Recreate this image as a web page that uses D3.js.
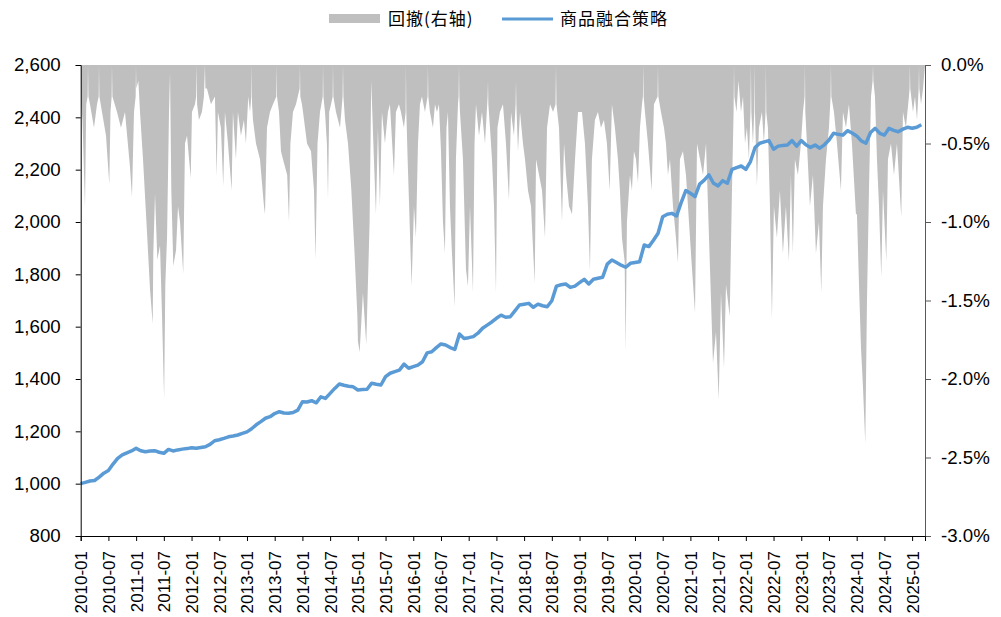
<!DOCTYPE html>
<html>
<head>
<meta charset="utf-8">
<script src="https://cdn.jsdelivr.net/npm/d3@7/dist/d3.min.js"></script>
<style>
  body { margin: 0; background: #fff; }
  svg text { font-family: Arial, "Liberation Sans", sans-serif; fill: #000; }
</style>
</head>
<body>
<script>
// 商品融合策略 净值, monthly (Jan 2010 .. Mar 2025)
const navStartYear = 2010;
const navValues = [
  1000, 1005, 1010, 1012, 1025, 1040, 1050, 1075, 1097, 1110, 1118, 1125, // 2010
  1135, 1126, 1122, 1125, 1126, 1120, 1116, 1131, 1125, 1129, 1132, 1134, // 2011
  1137, 1135, 1138, 1141, 1150, 1164, 1168, 1173, 1179, 1182, 1186, 1192, // 2012
  1198, 1210, 1225, 1237, 1250, 1256, 1268, 1275, 1270, 1269, 1272, 1281, // 2013
  1313, 1312, 1317, 1309, 1332, 1326, 1345, 1364, 1381, 1376, 1372, 1370, // 2014
  1358, 1360, 1361, 1384, 1380, 1377, 1409, 1422, 1428, 1434, 1457, 1441, // 2015
  1447, 1453, 1466, 1500, 1504, 1520, 1534, 1530, 1520, 1513, 1572, 1555, // 2016
  1558, 1562, 1575, 1594, 1606, 1618, 1632, 1644, 1636, 1638, 1660, 1683, // 2017
  1686, 1689, 1674, 1686, 1680, 1676, 1699, 1755, 1760, 1763, 1750, 1755, // 2018
  1768, 1781, 1763, 1781, 1785, 1789, 1839, 1855, 1845, 1835, 1827, 1842, // 2019
  1845, 1848, 1912, 1906, 1930, 1957, 2020, 2030, 2033, 2023, 2074, 2120, // 2020
  2110, 2097, 2145, 2160, 2180, 2148, 2138, 2158, 2148, 2201, 2208, 2214, // 2021
  2201, 2231, 2285, 2301, 2306, 2311, 2278, 2290, 2292, 2294, 2311, 2290, // 2022
  2311, 2295, 2285, 2294, 2282, 2295, 2313, 2339, 2335, 2332, 2349, 2340, // 2023
  2329, 2310, 2301, 2342, 2358, 2339, 2332, 2358, 2350, 2345, 2355, 2362, // 2024
  2358, 2362, 2372                                                         // 2025
];

// 回撤 (%), per year: [month offset, drawdown]
const dd2010 = [[0,0],[0.1,-0.25],[0.39,-0.35],[0.93,-0.91],[1.2,-0.25],[1.5,-0.2],[1.58,0],[1.68,-0.2],[2.01,-0.25],[2.88,-0.4],[3.53,-0.25],[3.9,-0.2],[3.96,0],[4.05,-0.2],[4.61,-0.3],[5.48,-0.45],[6.19,-0.76],[6.45,-0.3],[6.7,-0.2],[6.77,0],[6.87,-0.2],[7.86,-0.3],[8.72,-0.4],[9.59,-0.3],[10.67,-0.65],[11.1,-0.84],[11.54,-0.3],[11.9,-0.2],[11.97,0]];
const dd2011 = [[0.05,-0.15],[0.48,-0.1],[0.84,-0.3],[1.49,-0.6],[2.29,-1.03],[3.01,-1.43],[3.59,-1.65],[3.72,-1.2],[4.09,-0.82],[4.59,-1.24],[5.17,-1.15],[5.61,-1.6],[6.06,-2.13],[6.32,-1.4],[6.69,-1.1],[7.12,-0.3],[7.34,-0.05],[7.62,-0.8],[8.05,-1.28],[8.64,-1.18],[9.07,-0.9],[9.5,-1.0],[10.2,-1.33],[10.58,-0.5],[11.02,-0.45],[11.82,-0.72]];
const dd2012 = [[0.09,-0.3],[0.74,-0.25],[1.0,-0.2],[1.1,0],[1.2,-0.25],[1.6,-0.35],[2.25,-0.3],[2.68,-0.2],[2.9,0],[3.0,-0.15],[3.33,-0.15],[4.2,-0.25],[5.06,-0.2],[5.43,-0.71],[5.71,-0.3],[6.36,-0.4],[6.86,-0.77],[7.23,-0.3],[7.88,-0.5],[8.68,-0.8],[8.96,-0.3],[9.61,-0.6],[10.04,-0.3],[10.69,-0.45],[11.34,-0.35],[11.77,-0.5]];
const dd2013 = [[0.28,-0.2],[0.65,-0.3],[0.95,-0.2],[1.02,0],[1.1,-0.25],[1.3,-0.35],[1.95,-0.5],[2.81,-0.6],[3.68,-0.9],[3.9,-0.95],[4.33,-0.4],[4.98,-0.3],[5.63,-0.25],[6.35,-0.2],[6.43,0],[6.5,-0.2],[6.93,-0.3],[7.36,-0.55],[7.79,-0.6],[8.7,-0.7],[9.1,-1.0],[9.4,-0.5],[9.96,-0.3],[10.61,-0.25],[11.4,-0.15],[11.47,0],[11.55,-0.2],[11.9,-0.25]];
const dd2014 = [[0.13,-0.3],[1.0,-0.5],[1.86,-0.55],[2.51,-0.8],[2.84,-1.24],[3.27,-0.5],[3.81,-0.3],[4.4,-0.2],[4.46,0],[4.55,-0.2],[4.89,-0.3],[5.3,-0.5],[5.54,-0.85],[5.8,-0.3],[6.2,-0.25],[6.55,-0.2],[6.62,0],[6.7,-0.2],[7.27,-0.3],[8.14,-0.4],[8.7,-0.2],[8.79,0],[8.88,-0.2],[9.22,-0.35],[9.87,-0.5],[10.58,-0.79],[11.32,-1.22],[11.9,-1.6]];
const dd2015 = [[0.02,-1.76],[0.39,-1.83],[1.1,-1.45],[1.82,-1.78],[2.55,-1.0],[2.9,-0.1],[3.48,-0.6],[3.92,-0.95],[4.35,-0.4],[4.78,-0.9],[5.22,-0.3],[5.87,-0.5],[6.52,-0.3],[6.95,-0.25],[7.82,-0.7],[8.25,-0.3],[8.9,-0.25],[9.33,-0.3],[9.98,-0.4],[10.35,-0.3],[10.41,0],[10.5,-0.3],[10.78,-0.6],[11.21,-1.0],[11.64,-1.41]];
const dd2016 = [[0.15,-0.9],[0.58,-1.1],[1.02,-0.5],[1.45,-0.25],[1.88,-0.2],[2.53,-0.3],[3.1,-0.2],[3.18,0],[3.26,-0.2],[3.61,-0.3],[4.26,-0.4],[4.7,-0.25],[5.13,-0.3],[5.56,-0.25],[6.0,-0.55],[6.43,-1.0],[6.86,-1.2],[7.19,-0.4],[7.51,-0.3],[7.94,-0.9],[8.38,-1.2],[8.96,-1.54],[9.24,-0.6],[9.68,-0.25],[9.82,-0.2],[9.9,0],[9.98,-0.2],[10.11,-0.3],[10.76,-0.6],[11.41,-1.3],[11.84,-1.41]];
const dd2017 = [[0.28,-0.9],[0.93,-1.45],[1.26,-0.5],[1.58,-0.25],[2.23,-0.45],[2.88,-0.3],[3.53,-0.5],[4.1,-0.2],[4.18,-0.1],[4.26,-0.25],[4.61,-0.4],[5.04,-0.6],[5.48,-0.9],[5.91,-1.45],[6.23,-0.4],[6.77,-0.3],[7.42,-0.25],[8.07,-0.5],[8.72,-0.86],[9.16,-0.3],[9.8,-0.45],[10.16,-0.25],[10.24,-0.1],[10.32,-0.25],[10.67,-0.55],[11.11,-0.3],[11.75,-0.5]];
const dd2018 = [[0.19,-0.6],[0.84,-0.8],[1.49,-0.9],[2.29,-1.39],[2.58,-0.6],[3.23,-0.7],[3.88,-0.8],[4.52,-1.1],[4.96,-0.4],[5.61,-0.25],[6.26,-0.3],[6.8,-0.25],[6.9,0],[7.0,-0.25],[7.55,-0.4],[8.2,-1.0],[8.64,-0.5],[9.07,-0.7],[9.72,-0.9],[10.37,-0.95],[11.02,-0.6],[11.67,-0.3]];
const dd2019 = [[0.09,-0.3],[0.52,-0.3],[1.17,-0.5],[1.82,-0.9],[2.25,-1.31],[2.68,-0.6],[3.33,-0.35],[3.98,-0.3],[4.63,-0.4],[5.28,-0.35],[5.93,-0.5],[6.52,-0.8],[7.01,-0.25],[7.66,-0.4],[8.31,-0.6],[8.74,-0.8],[9.18,-1.1],[9.76,-1.25],[9.98,-1.83],[10.26,-1.0],[10.91,-0.7],[11.34,-0.8],[11.78,-0.55]];
const dd2020 = [[0.22,-0.6],[0.65,-0.75],[1.08,-0.4],[1.52,-0.25],[1.72,-0.2],[1.8,0],[1.88,-0.2],[2.16,-0.3],[2.81,-0.5],[3.61,-0.8],[4.11,-0.25],[4.9,-0.2],[4.98,0],[5.06,-0.2],[5.63,-0.3],[6.28,-0.4],[6.71,-0.5],[7.14,-0.7],[7.58,-0.6],[8.23,-0.9],[8.87,-1.1],[9.31,-1.26],[9.74,-0.6],[10.39,-0.55],[11.04,-0.7],[11.69,-1.0]];
const dd2021 = [[0.35,-1.3],[1.0,-1.58],[1.43,-0.5],[2.08,-0.6],[2.73,-0.7],[3.38,-0.5],[3.81,-0.9],[4.46,-1.5],[4.89,-1.9],[5.54,-1.7],[6.13,-2.13],[6.62,-1.45],[7.27,-1.93],[7.71,-1.4],[8.51,-1.6],[9.0,-0.8],[9.35,-0.3],[9.44,0],[9.52,-0.2],[9.98,-0.3],[10.41,-0.1],[10.95,-0.3],[11.39,-0.2],[11.82,-0.5]];
const dd2022 = [[0.24,-0.4],[0.67,-0.6],[1.0,-0.3],[1.1,0],[1.2,-0.3],[1.54,-0.5],[1.82,-0.3],[1.9,0],[1.98,-0.3],[2.4,-0.77],[2.84,-0.4],[3.49,-0.3],[3.92,-0.5],[4.27,-0.3],[4.35,0],[4.43,-0.3],[4.78,-0.4],[5.22,-0.9],[5.65,-1.62],[6.08,-0.9],[6.73,-1.1],[7.38,-0.8],[8.03,-1.2],[8.68,-0.9],[9.33,-1.25],[9.76,-0.7],[10.19,-1.2],[10.63,-0.6],[11.28,-0.7],[11.93,-0.5]];
const dd2023 = [[0.37,-0.3],[0.72,-0.2],[0.8,0],[0.88,-0.3],[1.23,-0.5],[1.88,-0.9],[2.53,-0.7],[3.18,-1.2],[3.83,-1.0],[4.33,-1.45],[4.7,-0.9],[5.35,-0.6],[6.0,-0.4],[6.35,-0.2],[6.43,0],[6.51,-0.2],[7.08,-0.3],[7.73,-0.5],[8.59,-0.8],[9.03,-0.3],[9.68,-0.4],[10.32,-0.25],[10.97,-0.5],[11.84,-0.95]];
const dd2024 = [[0.06,-0.95],[0.5,-1.4],[0.93,-1.8],[1.36,-2.05],[1.86,-2.41],[2.23,-1.5],[2.66,-0.8],[3.1,-0.2],[3.45,-0.1],[3.53,0],[3.61,-0.1],[3.96,-0.2],[4.39,-0.6],[4.83,-0.9],[5.32,-1.35],[5.69,-0.8],[6.41,-1.25],[6.77,-0.6],[7.42,-0.5],[8.07,-0.7],[8.72,-0.5],[9.65,-0.97],[10.02,-0.3],[10.66,-0.4],[11.31,-0.2],[11.45,-0.15],[11.52,0],[11.6,-0.15]];
const dd2025 = [[0.19,-0.3],[0.63,-0.2],[1.06,-0.35],[1.42,-0.15],[1.49,0],[1.56,-0.15],[1.93,-0.25],[2.36,-0.15],[2.79,0]];

const ddYears = [2010, 2011, 2012, 2013, 2014, 2015, 2016, 2017, 2018, 2019, 2020, 2021, 2022, 2023, 2024, 2025];
const ddByYear = [dd2010, dd2011, dd2012, dd2013, dd2014, dd2015, dd2016, dd2017, dd2018, dd2019, dd2020, dd2021, dd2022, dd2023, dd2024, dd2025];

const leftTicks = [800, 1000, 1200, 1400, 1600, 1800, 2000, 2200, 2400, 2600];
const rightTicks = [0, -0.5, -1.0, -1.5, -2.0, -2.5, -3.0];
const xTickLabels = ["2010-01","2010-07","2011-01","2011-07","2012-01","2012-07","2013-01","2013-07",
  "2014-01","2014-07","2015-01","2015-07","2016-01","2016-07","2017-01","2017-07","2018-01","2018-07",
  "2019-01","2019-07","2020-01","2020-07","2021-01","2021-07","2022-01","2022-07","2023-01","2023-07",
  "2024-01","2024-07","2025-01"];
const xEnd = 2025 + 2.79 / 12;

const legendNames = ["回撤(右轴)", "商品融合策略"];

let width = 1001;
let height = 617;
let margin = { top: 65, bottom: 81, left: 80.7, right: 76 };

/* escalas */
const x = d3.scaleLinear()
  .domain([2010, xEnd])
  .range([margin.left, width - margin.right]);
const yLeft = d3.scaleLinear()
  .domain([800, 2600])
  .range([height - margin.bottom, margin.top]);
const yRight = d3.scaleLinear()
  .domain([-3, 0])
  .range([height - margin.bottom, margin.top]);

const ddPoints = ddYears.flatMap((yr, k) => ddByYear[k].map(p => ({ t: yr + p[0] / 12, v: p[1] })));
const navPoints = navValues.map((v, i) => ({ t: navStartYear + i / 12, v: v }));

const svg = d3.select("body").append("svg")
  .attr("width", width)
  .attr("height", height);

svg.append("defs").append("clipPath").attr("id", "plot")
  .append("rect")
  .attr("x", margin.left).attr("y", margin.top)
  .attr("width", width - margin.right - margin.left)
  .attr("height", height - margin.bottom - margin.top);

/* area de drawdown */
const area = d3.area()
  .x(d => x(d.t))
  .y0(yRight(0))
  .y1(d => yRight(d.v));

svg.append("path")
  .datum(ddPoints)
  .attr("clip-path", "url(#plot)")
  .attr("fill", "#bfbfbf")
  .attr("d", area);

/* linea de NAV */
const line = d3.line()
  .x(d => x(d.t))
  .y(d => yLeft(d.v));

svg.append("path")
  .datum(navPoints)
  .attr("fill", "none")
  .attr("stroke", "#5b9bd5")
  .attr("stroke-width", 3.5)
  .attr("stroke-linejoin", "round")
  .attr("d", line);

/* ejes */
const axisFont = "18.7px";

const gLeft = svg.append("g")
  .attr("transform", "translate(" + margin.left + ",0)")
  .call(d3.axisLeft(yLeft).tickValues(leftTicks).tickFormat(d3.format(",")).tickSize(5).tickPadding(15));
gLeft.selectAll("text").style("font-size", axisFont);
gLeft.selectAll("line, path").attr("stroke", "#000");

const gRight = svg.append("g")
  .attr("transform", "translate(" + (width - margin.right) + ",0)")
  .call(d3.axisRight(yRight).tickValues(rightTicks).tickFormat(d => d.toFixed(1) + "%").tickSize(6).tickPadding(10));
gRight.selectAll("text").style("font-size", axisFont);
gRight.selectAll("line, path").attr("stroke", "#595959");

const xTickValues = xTickLabels.map(s => +s.slice(0, 4) + (+s.slice(5) - 1) / 12);
const gBottom = svg.append("g")
  .attr("transform", "translate(0," + (height - margin.bottom) + ")")
  .call(d3.axisBottom(x).tickValues(xTickValues).tickFormat((d, i) => xTickLabels[i]).tickSize(5));
gBottom.selectAll("line, path").attr("stroke", "#000");
gBottom.selectAll("text")
  .style("font-size", "17px")
  .attr("transform", "rotate(-90)")
  .attr("x", -15)
  .attr("y", 0)
  .attr("dy", "0.35em")
  .style("text-anchor", "end");

/* leyenda */
const legend = svg.append("g");
legend.append("rect")
  .attr("x", 329).attr("y", 14).attr("width", 51).attr("height", 9)
  .attr("fill", "#bfbfbf");
legend.append("text")
  .attr("x", 388).attr("y", 19).attr("dy", "0.35em")
  .style("font-size", "17px").style("letter-spacing", "1px")
  .style("font-family", "'Noto Sans CJK SC', sans-serif")
  .text(legendNames[0]);
legend.append("line")
  .attr("x1", 502).attr("x2", 553).attr("y1", 19).attr("y2", 19)
  .attr("stroke", "#5b9bd5").attr("stroke-width", 3);
legend.append("text")
  .attr("x", 560).attr("y", 19).attr("dy", "0.35em")
  .style("font-size", "17px").style("letter-spacing", "1px")
  .style("font-family", "'Noto Sans CJK SC', sans-serif")
  .text(legendNames[1]);
</script>
</body>
</html>
